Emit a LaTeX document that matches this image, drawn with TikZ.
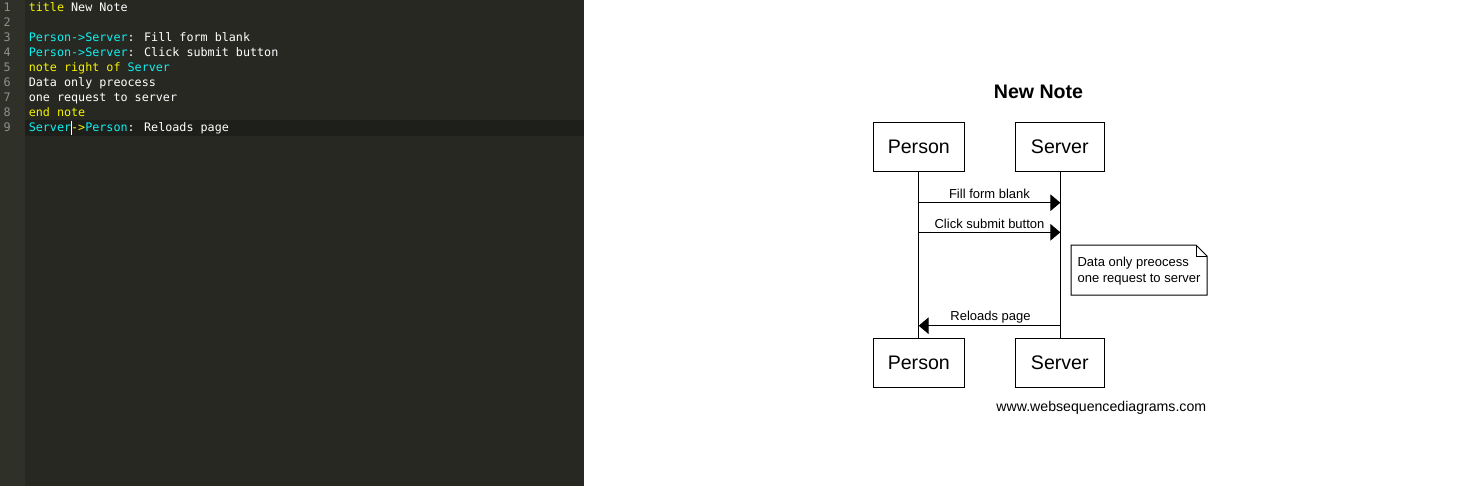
\documentclass[tikz,border=0pt]{standalone}
\usepackage{fontspec}
\setmainfont{Liberation Sans}
\newfontfamily\codefont{DejaVu Sans Mono}
\usetikzlibrary{arrows.meta}
\definecolor{edbg}{HTML}{272822}
\definecolor{gutbg}{HTML}{2F3129}
\definecolor{curline}{HTML}{1E1F1B}
\definecolor{kwyel}{HTML}{F4F400}
\definecolor{kwcyan}{HTML}{10F0F0}
\definecolor{codewhite}{HTML}{FFFFFF}
\definecolor{lnum}{HTML}{8F908A}
\newcommand{\Y}[1]{\textcolor{kwyel}{#1}}
\newcommand{\C}[1]{\textcolor{kwcyan}{#1}}
\tikzset{
  codeline/.style={anchor=base west, inner sep=0pt, text=codewhite, font=\codefont\fontsize{8.8}{10}\selectfont},
  lineno/.style={anchor=base east, inner sep=0pt, text=lnum, font=\codefont\fontsize{8.8}{10}\selectfont},
  actor/.style={draw=black, line width=0.75pt, fill=white, minimum height=36.75pt, inner sep=0pt, font=\fontsize{14.7}{17}\selectfont},
  lifeline/.style={draw=black, line width=0.75pt},
  msg/.style={draw=black, line width=0.75pt, -{Triangle[length=7.5pt,width=12.5pt]}},
  msglabel/.style={anchor=base, inner sep=0pt, font=\fontsize{9.75}{11}\selectfont},
  notetext/.style={anchor=base west, inner sep=0pt, font=\fontsize{9.75}{11}\selectfont}
}
\begin{document}
\begin{tikzpicture}[x=0.75pt,y=-0.75pt]
\useasboundingbox (0,0) rectangle (1475,486);
% editor
\fill[white] (584,0) rectangle (1475,486);
\fill[edbg] (25,0) rectangle (584,486);
\fill[gutbg] (0,0) rectangle (25,486);
\fill[curline] (25,120) rectangle (584,135.5);
\foreach \n in {1,...,9} {
  \node[lineno] (ln\n) at (11,{11.7+15*(\n-1)}) {\n};
}
\node[codeline] (c1) at (28.5,11.7) {\Y{title} New Note};
\node[codeline] (c3) at (28.5,41.7) {\C{Person->Server}: Fill form blank};
\node[codeline] (c4) at (28.5,56.7) {\C{Person->Server}: Click submit button};
\node[codeline] (c5) at (28.5,71.7) {\Y{note right of} \C{Server}};
\node[codeline] (c6) at (28.5,86.7) {Data only preocess};
\node[codeline] (c7) at (28.5,101.7) {one request to server};
\node[codeline] (c8) at (28.5,116.7) {\Y{end note}};
\node[codeline] (c9) at (28.5,131.7) {\C{Server}\Y{->}\C{Person}: Reloads page};
\draw[codewhite, line width=1pt] (71.6,120.5) -- (71.6,135);
% diagram
\node[anchor=base, inner sep=0pt, font=\bfseries\fontsize{14.7}{17}\selectfont] (title) at (1038.5,98.3) {New Note};
\node[actor, minimum width=68.25pt] (p1) at (918.8,146.6) {};
\node[actor, minimum width=66.75pt] (s1) at (1059.8,146.6) {};
\node[actor, minimum width=68.25pt] (p2) at (918.8,362.8) {};
\node[actor, minimum width=66.75pt] (s2) at (1059.8,362.8) {};
\node[anchor=base, inner sep=0pt, font=\fontsize{14.7}{17}\selectfont] (p1t) at (918.8,153.3) {Person};
\node[anchor=base, inner sep=0pt, font=\fontsize{14.7}{17}\selectfont] (s1t) at (1059.8,153.3) {Server};
\node[anchor=base, inner sep=0pt, font=\fontsize{14.7}{17}\selectfont] (p2t) at (918.8,369.3) {Person};
\node[anchor=base, inner sep=0pt, font=\fontsize{14.7}{17}\selectfont] (s2t) at (1059.8,369.3) {Server};
\coordinate (pl1) at (918.7,171);
\coordinate (pl2) at (918.7,338.3);
\coordinate (sl1) at (1060.3,171);
\coordinate (sl2) at (1060.3,338.3);
\draw[lifeline] (pl1) -- (pl2);
\draw[lifeline] (sl1) -- (sl2);
% messages
\coordinate (m1a) at (918.7,202.7);
\coordinate (m1b) at (1060.3,202.7);
\coordinate (m2a) at (918.7,232.3);
\coordinate (m2b) at (1060.3,232.3);
\coordinate (m3a) at (1060.3,325.7);
\coordinate (m3b) at (918.7,325.7);
\draw[msg] (m1a) -- (m1b);
\draw[msg] (m2a) -- (m2b);
\draw[msg] (m3a) -- (m3b);
\node[msglabel] (l1) at (989.5,198) {Fill form blank};
\node[msglabel] (l2) at (989.5,228.6) {Click submit button};
\node[msglabel] (l3) at (990.5,320.8) {Reloads page};
% note
\draw[line width=0.75pt, fill=white] (1071,245) -- (1196,245) -- (1207,256) -- (1207,295) -- (1071,295) -- cycle;
\draw[line width=0.75pt] (1196,245) -- (1196,256) -- (1207,256);
\node[notetext] (n1) at (1077.3,266.9) {Data only preocess};
\node[notetext] (n2) at (1077.3,282.5) {one request to server};
% footer
\node[anchor=base, inner sep=0pt, font=\fontsize{10.6}{12}\selectfont] (footer) at (1101.3,411) {www.websequencediagrams.com};
\end{tikzpicture}
\end{document}
